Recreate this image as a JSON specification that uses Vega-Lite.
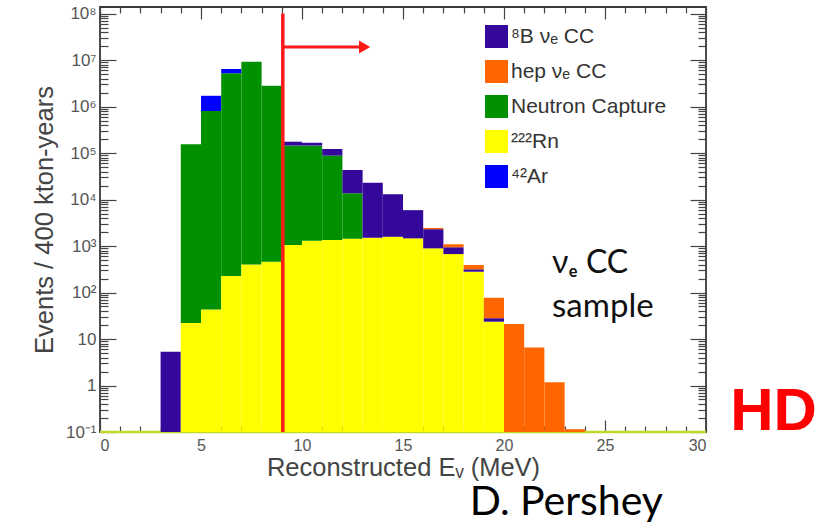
{
  "$schema": "https://vega.github.io/schema/vega-lite/v6.json",
  "autosize": "none",
  "width": 606,
  "height": 425,
  "padding": {"left": 100, "top": 7, "right": 124, "bottom": 93},
  "background": "white",
  "config": {
    "view": {"stroke": "#3a3a3a", "strokeWidth": 1.8},
    "font": "Liberation Sans",
    "axis": {"domain": false, "grid": false, "labelFont": "Liberation Sans", "titleFont": "Liberation Sans", "tickColor": "#444", "labelColor": "#555", "titleColor": "#444", "titleFontWeight": "normal", "labelFontSize": 16, "titleFontSize": 25.5, "tickWidth": 1.2}
  },
  "datasets": {
    "hist": [
      {"lo": 3, "hi": 4, "source": "⁸B νₑ CC", "bottom": 0.1, "top": 5.3},
      {"lo": 4, "hi": 5, "source": "²²²Rn", "bottom": 0.1, "top": 22},
      {"lo": 4, "hi": 5, "source": "Neutron Capture", "bottom": 22, "top": 155000},
      {"lo": 5, "hi": 6, "source": "²²²Rn", "bottom": 0.1, "top": 43},
      {"lo": 5, "hi": 6, "source": "Neutron Capture", "bottom": 43, "top": 800000},
      {"lo": 5, "hi": 6, "source": "⁴²Ar", "bottom": 800000, "top": 1700000},
      {"lo": 6, "hi": 7, "source": "²²²Rn", "bottom": 0.1, "top": 226},
      {"lo": 6, "hi": 7, "source": "Neutron Capture", "bottom": 226, "top": 5200000},
      {"lo": 6, "hi": 7, "source": "⁴²Ar", "bottom": 5200000, "top": 6400000},
      {"lo": 7, "hi": 8, "source": "²²²Rn", "bottom": 0.1, "top": 400},
      {"lo": 7, "hi": 8, "source": "Neutron Capture", "bottom": 400, "top": 9200000},
      {"lo": 8, "hi": 9, "source": "²²²Rn", "bottom": 0.1, "top": 460},
      {"lo": 8, "hi": 9, "source": "Neutron Capture", "bottom": 460, "top": 2800000},
      {"lo": 9, "hi": 10, "source": "²²²Rn", "bottom": 0.1, "top": 1050},
      {"lo": 9, "hi": 10, "source": "Neutron Capture", "bottom": 1050, "top": 144000},
      {"lo": 9, "hi": 10, "source": "⁸B νₑ CC", "bottom": 144000, "top": 175000},
      {"lo": 10, "hi": 11, "source": "²²²Rn", "bottom": 0.1, "top": 1300},
      {"lo": 10, "hi": 11, "source": "Neutron Capture", "bottom": 1300, "top": 144000},
      {"lo": 10, "hi": 11, "source": "⁸B νₑ CC", "bottom": 144000, "top": 166000},
      {"lo": 11, "hi": 12, "source": "²²²Rn", "bottom": 0.1, "top": 1350},
      {"lo": 11, "hi": 12, "source": "Neutron Capture", "bottom": 1350, "top": 88000},
      {"lo": 11, "hi": 12, "source": "⁸B νₑ CC", "bottom": 88000, "top": 122000},
      {"lo": 12, "hi": 13, "source": "²²²Rn", "bottom": 0.1, "top": 1440},
      {"lo": 12, "hi": 13, "source": "Neutron Capture", "bottom": 1440, "top": 13600},
      {"lo": 12, "hi": 13, "source": "⁸B νₑ CC", "bottom": 13600, "top": 43000},
      {"lo": 13, "hi": 14, "source": "²²²Rn", "bottom": 0.1, "top": 1510},
      {"lo": 13, "hi": 14, "source": "⁸B νₑ CC", "bottom": 1510, "top": 23000},
      {"lo": 14, "hi": 15, "source": "²²²Rn", "bottom": 0.1, "top": 1590},
      {"lo": 14, "hi": 15, "source": "⁸B νₑ CC", "bottom": 1590, "top": 13000},
      {"lo": 15, "hi": 16, "source": "²²²Rn", "bottom": 0.1, "top": 1460},
      {"lo": 15, "hi": 16, "source": "⁸B νₑ CC", "bottom": 1460, "top": 5900},
      {"lo": 16, "hi": 17, "source": "²²²Rn", "bottom": 0.1, "top": 890},
      {"lo": 16, "hi": 17, "source": "⁸B νₑ CC", "bottom": 890, "top": 2300},
      {"lo": 16, "hi": 17, "source": "hep  νₑ CC", "bottom": 2300, "top": 2450},
      {"lo": 17, "hi": 18, "source": "²²²Rn", "bottom": 0.1, "top": 670},
      {"lo": 17, "hi": 18, "source": "⁸B νₑ CC", "bottom": 670, "top": 940},
      {"lo": 17, "hi": 18, "source": "hep  νₑ CC", "bottom": 940, "top": 1090},
      {"lo": 18, "hi": 19, "source": "²²²Rn", "bottom": 0.1, "top": 280},
      {"lo": 18, "hi": 19, "source": "⁸B νₑ CC", "bottom": 280, "top": 315},
      {"lo": 18, "hi": 19, "source": "hep  νₑ CC", "bottom": 315, "top": 390},
      {"lo": 19, "hi": 20, "source": "²²²Rn", "bottom": 0.1, "top": 23.6},
      {"lo": 19, "hi": 20, "source": "⁸B νₑ CC", "bottom": 23.6, "top": 28},
      {"lo": 19, "hi": 20, "source": "hep  νₑ CC", "bottom": 28, "top": 77},
      {"lo": 20, "hi": 21, "source": "hep  νₑ CC", "bottom": 0.1, "top": 21},
      {"lo": 21, "hi": 22, "source": "hep  νₑ CC", "bottom": 0.1, "top": 6.6},
      {"lo": 22, "hi": 23, "source": "hep  νₑ CC", "bottom": 0.1, "top": 1.17},
      {"lo": 23, "hi": 24, "source": "hep  νₑ CC", "bottom": 0.1, "top": 0.115}
    ]
  },
  "layer": [
    {
      "data": {"values": [{}]},
      "mark": {"type": "rule", "color": "#c2d62c", "strokeWidth": 2.5},
      "encoding": {
        "x": {"datum": 0, "type": "quantitative", "scale": {"domain": [0, 30], "nice": false, "zero": false},
              "axis": {"orient": "bottom", "values": [1,2,3,4,6,7,8,9,11,12,13,14,16,17,18,19,21,22,23,24,26,27,28,29], "labels": false, "tickSize": -6, "title": null}},
        "x2": {"datum": 30},
        "y": {"datum": 0.1, "type": "quantitative", "scale": {"type": "log", "domain": [0.1, 138000000], "nice": false},
              "axis": {"orient": "left", "labels": false, "tickSize": -8, "title": null,
                       "values": [0.2,0.3,0.4,0.5,0.6,0.7,0.8,0.9,2,3,4,5,6,7,8,9,20,30,40,50,60,70,80,90,200,300,400,500,600,700,800,900,2000,3000,4000,5000,6000,7000,8000,9000,20000,30000,40000,50000,60000,70000,80000,90000,200000,300000,400000,500000,600000,700000,800000,900000,2000000,3000000,4000000,5000000,6000000,7000000,8000000,9000000,20000000,30000000,40000000,50000000,60000000,70000000,80000000,90000000]}}
      }
    },
    {
      "data": {"name": "hist"},
      "mark": {"type": "bar", "strokeWidth": 0},
      "encoding": {
        "x": {"field": "lo", "type": "quantitative",
              "axis": {"orient": "bottom", "values": [0,5,10,15,20,25,30], "tickSize": -12, "labelPadding": 17, "title": "Reconstructed Eᵥ (MeV)", "titlePadding": 2}},
        "x2": {"field": "hi"},
        "y": {"field": "top", "type": "quantitative",
              "axis": {"orient": "left", "values": [0.1,1,10,100,1000,10000,100000,1000000,10000000,100000000], "tickSize": -16, "labelPadding": 20, "labelFontSize": 17,
                       "labelExpr": "['10⁻¹','1','10','10²','10³','10⁴','10⁵','10⁶','10⁷','10⁸'][round(log(datum.value)/LN10)+1]",
                       "title": "Events / 400 kton-years", "titlePadding": 8}},
        "y2": {"field": "bottom"},
        "color": {"field": "source", "type": "nominal",
                  "scale": {"domain": ["⁸B νₑ CC", "hep  νₑ CC", "Neutron Capture", "²²²Rn", "⁴²Ar"],
                            "range": ["#34089a", "#ff6600", "#009000", "#ffff00", "#0000ff"]},
                  "legend": {"orient": "none", "legendX": 385, "legendY": 18, "title": null, "symbolType": "square", "symbolSize": 529,
                             "symbolStrokeWidth": 0, "symbolOpacity": 1, "labelFontSize": 21, "labelFont": "Liberation Sans", "labelColor": "#333",
                             "rowPadding": 12, "labelOffset": 3}}
      }
    },
    {
      "data": {"values": [{}]},
      "mark": {"type": "rule", "color": "#ff1a1a", "strokeWidth": 3.5},
      "encoding": {
        "x": {"datum": 9.05, "type": "quantitative",
              "axis": {"orient": "top", "values": [0,5,10,15,20,25,30], "labels": false, "tickSize": -12, "title": null}},
        "y": {"datum": 0.1, "type": "quantitative",
              "axis": {"orient": "right", "values": [0.1,1,10,100,1000,10000,100000,1000000,10000000,100000000], "labels": false, "tickSize": -16, "title": null}},
        "y2": {"datum": 100000000}
      }
    },
    {
      "data": {"values": [{}]},
      "mark": {"type": "rule", "color": "#ff1a1a", "strokeWidth": 3},
      "encoding": {
        "x": {"datum": 9.05, "type": "quantitative",
              "axis": {"orient": "top", "values": [1,2,3,4,6,7,8,9,11,12,13,14,16,17,18,19,21,22,23,24,26,27,28,29], "labels": false, "tickSize": -6, "title": null}},
        "x2": {"datum": 12.9},
        "y": {"datum": 19000000, "type": "quantitative",
              "axis": {"orient": "right", "labels": false, "tickSize": -8, "title": null,
                       "values": [0.2,0.3,0.4,0.5,0.6,0.7,0.8,0.9,2,3,4,5,6,7,8,9,20,30,40,50,60,70,80,90,200,300,400,500,600,700,800,900,2000,3000,4000,5000,6000,7000,8000,9000,20000,30000,40000,50000,60000,70000,80000,90000,200000,300000,400000,500000,600000,700000,800000,900000,2000000,3000000,4000000,5000000,6000000,7000000,8000000,9000000,20000000,30000000,40000000,50000000,60000000,70000000,80000000,90000000]}}
      }
    },
    {
      "data": {"values": [{}]},
      "mark": {"type": "point", "shape": "triangle-right", "filled": true, "color": "#ff1a1a", "size": 170, "opacity": 1},
      "encoding": {
        "x": {"datum": 13.1, "type": "quantitative", "axis": null},
        "y": {"datum": 19000000, "type": "quantitative", "axis": null}
      }
    },
    {
      "data": {"values": [{}]},
      "mark": {"type": "text", "text": "νₑ CC", "font": "Lato", "fontSize": 32, "align": "left", "baseline": "alphabetic", "color": "#111"},
      "encoding": {
        "x": {"datum": 22.38, "type": "quantitative", "axis": null},
        "y": {"datum": 263, "type": "quantitative", "axis": null}
      }
    },
    {
      "data": {"values": [{}]},
      "mark": {"type": "text", "text": "sample", "font": "Lato", "fontSize": 33, "align": "left", "baseline": "alphabetic", "color": "#111"},
      "encoding": {
        "x": {"datum": 22.38, "type": "quantitative", "axis": null},
        "y": {"datum": 29.7, "type": "quantitative", "axis": null}
      }
    },
    {
      "data": {"values": [{}]},
      "mark": {"type": "text", "text": "HD", "font": "Liberation Sans", "fontWeight": "bold", "fontSize": 60, "align": "left", "baseline": "alphabetic", "color": "#ff0000"},
      "encoding": {
        "x": {"datum": 31.2, "type": "quantitative", "axis": null},
        "y": {"datum": 0.11, "type": "quantitative", "axis": null}
      }
    },
    {
      "data": {"values": [{}]},
      "mark": {"type": "text", "text": "D. Pershey", "font": "Lato", "fontSize": 41, "align": "left", "baseline": "alphabetic", "color": "#000"},
      "encoding": {
        "x": {"datum": 18.3, "type": "quantitative", "axis": null},
        "y": {"datum": 0.00164, "type": "quantitative", "axis": null}
      }
    }
  ],
  "resolve": {"axis": {"x": "independent", "y": "independent"}}
}
